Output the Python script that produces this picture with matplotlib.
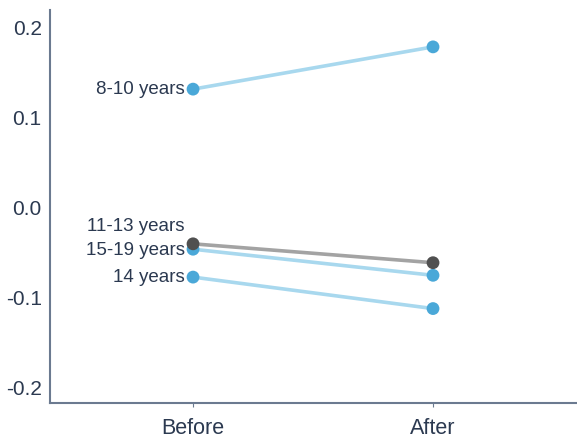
import matplotlib.pyplot as plt
import numpy as np

plt.rcParams['font.family'] = ['Liberation Sans', 'DejaVu Sans']

# data
periods = ["Before", "After"]
groups = ["8-10 years", "11-13 years", "15-19 years", "14 years"]
before = [0.132, -0.040, -0.046, -0.077]
after = [0.179, -0.061, -0.075, -0.112]
line_colors = ["#a8d8ee", "#a3a3a3", "#a8d8ee", "#a8d8ee"]
dot_colors = ["#4aa8d8", "#505050", "#4aa8d8", "#4aa8d8"]
label_offsets = [0.0, 0.019, -0.001, 0.0]  # nudge labels so they don't collide

text_col = "#2b3950"
x = np.arange(1, len(periods) + 1)

fig = plt.figure(figsize=(5.77, 4.42), dpi=100)
ax = fig.add_axes([50 / 577, 1 - 403 / 442, 527 / 577, 393 / 442])

# grey line drawn last so it sits on top like in the reference
order = [0, 2, 3, 1]
for i in order:
    ax.plot(x, [before[i], after[i]], color=line_colors[i], lw=2.6, zorder=2)
    ax.scatter(x, [before[i], after[i]], s=85, color=dot_colors[i], zorder=3, edgecolors="none")

for i, g in enumerate(groups):
    ax.text(x[0] - 0.035, before[i] + label_offsets[i], g, ha="right", va="center",
            fontsize=13.5, color=text_col)

ax.set_xlim(0.404, 2.6)
ax.set_ylim(-0.217, 0.22)
ax.set_xticks(x)
ax.set_xticklabels(periods)
ax.set_yticks([-0.2, -0.1, 0.0, 0.1, 0.2])
ax.set_yticklabels(["-0.2", "-0.1", "0.0", "0.1", "0.2"])

for s in ["top", "right"]:
    ax.spines[s].set_visible(False)
for s in ["left", "bottom"]:
    ax.spines[s].set_color("#6b7a90")
    ax.spines[s].set_linewidth(1.5)

ax.tick_params(axis="y", length=0, pad=6, labelsize=15, labelcolor=text_col)
ax.tick_params(axis="x", length=3, color="#6b7a90", pad=8, labelsize=15.5, labelcolor=text_col)

fig.savefig("out.png", dpi=100)
